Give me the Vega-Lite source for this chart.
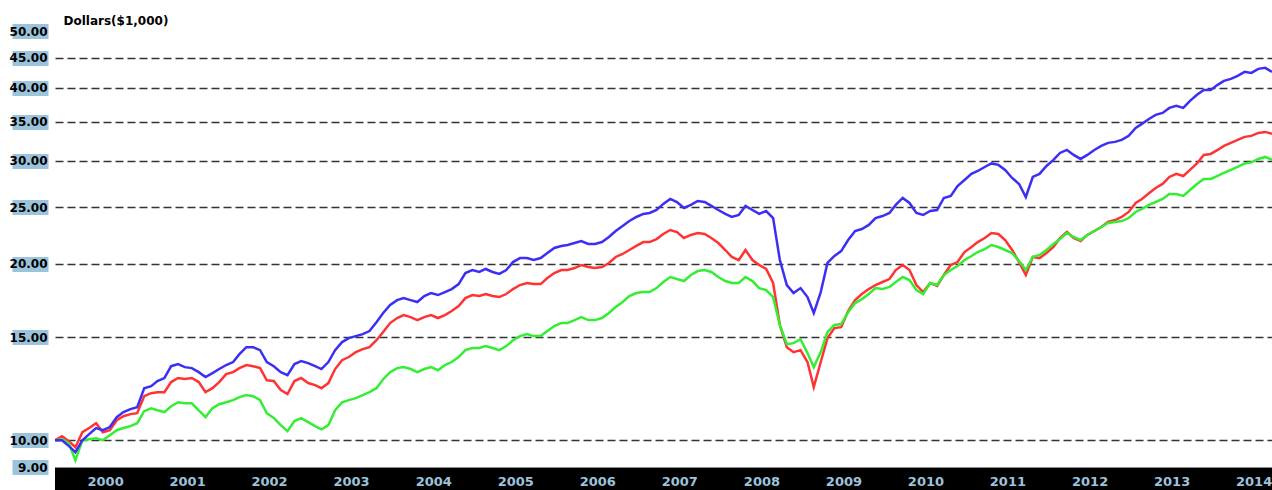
{
  "$schema": "https://vega.github.io/schema/vega-lite/v6.json",
  "width": 1217,
  "height": 436,
  "autosize": {"type": "none"},
  "padding": {"left": 55, "top": 31, "right": 0, "bottom": 23},
  "background": "white",
  "config": {"view": {"stroke": null}},
  "data": {"values": [
    {"date":"1999-12-01","s1":10.00,"s2":10.00,"s3":10.00},
    {"date":"2000-01-01","s1":10.00,"s2":10.16,"s3":10.04},
    {"date":"2000-02-01","s1":9.77,"s2":9.96,"s3":9.88},
    {"date":"2000-03-01","s1":9.54,"s2":9.73,"s3":9.24},
    {"date":"2000-04-01","s1":10.00,"s2":10.32,"s3":10.00},
    {"date":"2000-05-01","s1":10.24,"s2":10.49,"s3":10.04},
    {"date":"2000-06-01","s1":10.49,"s2":10.69,"s3":10.08},
    {"date":"2000-07-01","s1":10.40,"s2":10.32,"s3":10.00},
    {"date":"2000-08-01","s1":10.53,"s2":10.40,"s3":10.20},
    {"date":"2000-09-01","s1":10.95,"s2":10.82,"s3":10.40},
    {"date":"2000-10-01","s1":11.17,"s2":10.99,"s3":10.49},
    {"date":"2000-11-01","s1":11.30,"s2":11.08,"s3":10.57},
    {"date":"2000-12-01","s1":11.39,"s2":11.12,"s3":10.69},
    {"date":"2001-01-01","s1":12.27,"s2":11.89,"s3":11.21},
    {"date":"2001-02-01","s1":12.37,"s2":12.03,"s3":11.34},
    {"date":"2001-03-01","s1":12.62,"s2":12.08,"s3":11.25},
    {"date":"2001-04-01","s1":12.77,"s2":12.08,"s3":11.17},
    {"date":"2001-05-01","s1":13.38,"s2":12.57,"s3":11.43},
    {"date":"2001-06-01","s1":13.49,"s2":12.77,"s3":11.61},
    {"date":"2001-07-01","s1":13.33,"s2":12.72,"s3":11.56},
    {"date":"2001-08-01","s1":13.28,"s2":12.77,"s3":11.56},
    {"date":"2001-09-01","s1":13.07,"s2":12.57,"s3":11.25},
    {"date":"2001-10-01","s1":12.82,"s2":12.08,"s3":10.95},
    {"date":"2001-11-01","s1":13.02,"s2":12.27,"s3":11.34},
    {"date":"2001-12-01","s1":13.23,"s2":12.57,"s3":11.52},
    {"date":"2002-01-01","s1":13.44,"s2":12.97,"s3":11.61},
    {"date":"2002-02-01","s1":13.60,"s2":13.07,"s3":11.71},
    {"date":"2002-03-01","s1":14.03,"s2":13.28,"s3":11.85},
    {"date":"2002-04-01","s1":14.42,"s2":13.44,"s3":11.94},
    {"date":"2002-05-01","s1":14.42,"s2":13.38,"s3":11.89},
    {"date":"2002-06-01","s1":14.25,"s2":13.28,"s3":11.71},
    {"date":"2002-07-01","s1":13.60,"s2":12.66,"s3":11.12},
    {"date":"2002-08-01","s1":13.38,"s2":12.62,"s3":10.91},
    {"date":"2002-09-01","s1":13.07,"s2":12.18,"s3":10.61},
    {"date":"2002-10-01","s1":12.92,"s2":11.99,"s3":10.36},
    {"date":"2002-11-01","s1":13.49,"s2":12.62,"s3":10.78},
    {"date":"2002-12-01","s1":13.65,"s2":12.77,"s3":10.91},
    {"date":"2003-01-01","s1":13.54,"s2":12.52,"s3":10.74},
    {"date":"2003-02-01","s1":13.38,"s2":12.42,"s3":10.57},
    {"date":"2003-03-01","s1":13.23,"s2":12.27,"s3":10.44},
    {"date":"2003-04-01","s1":13.60,"s2":12.52,"s3":10.61},
    {"date":"2003-05-01","s1":14.25,"s2":13.23,"s3":11.25},
    {"date":"2003-06-01","s1":14.71,"s2":13.70,"s3":11.61},
    {"date":"2003-07-01","s1":14.94,"s2":13.87,"s3":11.71},
    {"date":"2003-08-01","s1":15.06,"s2":14.14,"s3":11.80},
    {"date":"2003-09-01","s1":15.18,"s2":14.31,"s3":11.94},
    {"date":"2003-10-01","s1":15.36,"s2":14.42,"s3":12.08},
    {"date":"2003-11-01","s1":15.91,"s2":14.82,"s3":12.27},
    {"date":"2003-12-01","s1":16.49,"s2":15.30,"s3":12.71},
    {"date":"2004-01-01","s1":17.02,"s2":15.85,"s3":13.07},
    {"date":"2004-02-01","s1":17.35,"s2":16.17,"s3":13.28},
    {"date":"2004-03-01","s1":17.49,"s2":16.36,"s3":13.33},
    {"date":"2004-04-01","s1":17.35,"s2":16.23,"s3":13.23},
    {"date":"2004-05-01","s1":17.22,"s2":16.04,"s3":13.07},
    {"date":"2004-06-01","s1":17.63,"s2":16.23,"s3":13.23},
    {"date":"2004-07-01","s1":17.84,"s2":16.36,"s3":13.33},
    {"date":"2004-08-01","s1":17.70,"s2":16.17,"s3":13.17},
    {"date":"2004-09-01","s1":17.91,"s2":16.36,"s3":13.44},
    {"date":"2004-10-01","s1":18.12,"s2":16.62,"s3":13.60},
    {"date":"2004-11-01","s1":18.48,"s2":16.95,"s3":13.87},
    {"date":"2004-12-01","s1":19.30,"s2":17.49,"s3":14.25},
    {"date":"2005-01-01","s1":19.53,"s2":17.70,"s3":14.37},
    {"date":"2005-02-01","s1":19.38,"s2":17.63,"s3":14.37},
    {"date":"2005-03-01","s1":19.61,"s2":17.77,"s3":14.48},
    {"date":"2005-04-01","s1":19.38,"s2":17.63,"s3":14.37},
    {"date":"2005-05-01","s1":19.23,"s2":17.56,"s3":14.25},
    {"date":"2005-06-01","s1":19.53,"s2":17.77,"s3":14.48},
    {"date":"2005-07-01","s1":20.15,"s2":18.12,"s3":14.82},
    {"date":"2005-08-01","s1":20.47,"s2":18.41,"s3":15.06},
    {"date":"2005-09-01","s1":20.47,"s2":18.56,"s3":15.18},
    {"date":"2005-10-01","s1":20.31,"s2":18.48,"s3":15.06},
    {"date":"2005-11-01","s1":20.47,"s2":18.48,"s3":15.06},
    {"date":"2005-12-01","s1":20.88,"s2":18.92,"s3":15.36},
    {"date":"2006-01-01","s1":21.30,"s2":19.30,"s3":15.67},
    {"date":"2006-02-01","s1":21.47,"s2":19.53,"s3":15.85},
    {"date":"2006-03-01","s1":21.55,"s2":19.53,"s3":15.85},
    {"date":"2006-04-01","s1":21.72,"s2":19.68,"s3":16.04},
    {"date":"2006-05-01","s1":21.89,"s2":19.92,"s3":16.23},
    {"date":"2006-06-01","s1":21.64,"s2":19.76,"s3":16.04},
    {"date":"2006-07-01","s1":21.64,"s2":19.68,"s3":16.04},
    {"date":"2006-08-01","s1":21.80,"s2":19.76,"s3":16.17},
    {"date":"2006-09-01","s1":22.24,"s2":20.08,"s3":16.49},
    {"date":"2006-10-01","s1":22.77,"s2":20.56,"s3":16.88},
    {"date":"2006-11-01","s1":23.22,"s2":20.80,"s3":17.22},
    {"date":"2006-12-01","s1":23.68,"s2":21.13,"s3":17.63},
    {"date":"2007-01-01","s1":24.06,"s2":21.47,"s3":17.84},
    {"date":"2007-02-01","s1":24.35,"s2":21.80,"s3":17.91},
    {"date":"2007-03-01","s1":24.44,"s2":21.80,"s3":17.91},
    {"date":"2007-04-01","s1":24.73,"s2":22.06,"s3":18.19},
    {"date":"2007-05-01","s1":25.33,"s2":22.50,"s3":18.63},
    {"date":"2007-06-01","s1":25.83,"s2":22.86,"s3":19.00},
    {"date":"2007-07-01","s1":25.52,"s2":22.68,"s3":18.85},
    {"date":"2007-08-01","s1":24.93,"s2":22.15,"s3":18.70},
    {"date":"2007-09-01","s1":25.23,"s2":22.42,"s3":19.15},
    {"date":"2007-10-01","s1":25.62,"s2":22.59,"s3":19.45},
    {"date":"2007-11-01","s1":25.52,"s2":22.50,"s3":19.53},
    {"date":"2007-12-01","s1":25.13,"s2":22.15,"s3":19.38},
    {"date":"2008-01-01","s1":24.73,"s2":21.72,"s3":19.00},
    {"date":"2008-02-01","s1":24.35,"s2":21.13,"s3":18.70},
    {"date":"2008-03-01","s1":24.06,"s2":20.56,"s3":18.56},
    {"date":"2008-04-01","s1":24.25,"s2":20.31,"s3":18.56},
    {"date":"2008-05-01","s1":25.13,"s2":21.13,"s3":19.00},
    {"date":"2008-06-01","s1":24.73,"s2":20.31,"s3":18.70},
    {"date":"2008-07-01","s1":24.35,"s2":19.92,"s3":18.19},
    {"date":"2008-08-01","s1":24.63,"s2":19.61,"s3":18.05},
    {"date":"2008-09-01","s1":23.96,"s2":18.56,"s3":17.56},
    {"date":"2008-10-01","s1":20.31,"s2":15.73,"s3":15.73},
    {"date":"2008-11-01","s1":18.41,"s2":14.42,"s3":14.59},
    {"date":"2008-12-01","s1":17.84,"s2":14.14,"s3":14.65},
    {"date":"2009-01-01","s1":18.19,"s2":14.25,"s3":14.88},
    {"date":"2009-02-01","s1":17.56,"s2":13.60,"s3":14.09},
    {"date":"2009-03-01","s1":16.49,"s2":12.32,"s3":13.33},
    {"date":"2009-04-01","s1":17.91,"s2":13.60,"s3":14.14},
    {"date":"2009-05-01","s1":20.08,"s2":14.94,"s3":15.30},
    {"date":"2009-06-01","s1":20.64,"s2":15.54,"s3":15.73},
    {"date":"2009-07-01","s1":21.04,"s2":15.60,"s3":15.79},
    {"date":"2009-08-01","s1":21.97,"s2":16.62,"s3":16.55},
    {"date":"2009-09-01","s1":22.77,"s2":17.35,"s3":17.15},
    {"date":"2009-10-01","s1":22.95,"s2":17.77,"s3":17.42},
    {"date":"2009-11-01","s1":23.32,"s2":18.12,"s3":17.77},
    {"date":"2009-12-01","s1":23.96,"s2":18.41,"s3":18.19},
    {"date":"2010-01-01","s1":24.15,"s2":18.63,"s3":18.12},
    {"date":"2010-02-01","s1":24.44,"s2":18.85,"s3":18.27},
    {"date":"2010-03-01","s1":25.23,"s2":19.53,"s3":18.63},
    {"date":"2010-04-01","s1":25.93,"s2":19.92,"s3":19.00},
    {"date":"2010-05-01","s1":25.42,"s2":19.53,"s3":18.77},
    {"date":"2010-06-01","s1":24.44,"s2":18.41,"s3":18.05},
    {"date":"2010-07-01","s1":24.25,"s2":17.91,"s3":17.77},
    {"date":"2010-08-01","s1":24.63,"s2":18.56,"s3":18.56},
    {"date":"2010-09-01","s1":24.73,"s2":18.34,"s3":18.41},
    {"date":"2010-10-01","s1":25.93,"s2":19.15,"s3":19.15},
    {"date":"2010-11-01","s1":26.14,"s2":19.92,"s3":19.53},
    {"date":"2010-12-01","s1":27.18,"s2":20.15,"s3":19.84},
    {"date":"2011-01-01","s1":27.83,"s2":20.96,"s3":20.31},
    {"date":"2011-02-01","s1":28.50,"s2":21.38,"s3":20.64},
    {"date":"2011-03-01","s1":28.83,"s2":21.80,"s3":20.96},
    {"date":"2011-04-01","s1":29.29,"s2":22.15,"s3":21.21},
    {"date":"2011-05-01","s1":29.70,"s2":22.59,"s3":21.55},
    {"date":"2011-06-01","s1":29.53,"s2":22.50,"s3":21.38},
    {"date":"2011-07-01","s1":28.95,"s2":21.97,"s3":21.13},
    {"date":"2011-08-01","s1":28.05,"s2":21.13,"s3":20.88},
    {"date":"2011-09-01","s1":27.40,"s2":20.15,"s3":20.23},
    {"date":"2011-10-01","s1":26.03,"s2":19.15,"s3":19.53},
    {"date":"2011-11-01","s1":28.16,"s2":20.56,"s3":20.56},
    {"date":"2011-12-01","s1":28.50,"s2":20.47,"s3":20.72},
    {"date":"2012-01-01","s1":29.41,"s2":20.88,"s3":21.13},
    {"date":"2012-02-01","s1":30.11,"s2":21.38,"s3":21.64},
    {"date":"2012-03-01","s1":30.95,"s2":22.15,"s3":22.06},
    {"date":"2012-04-01","s1":31.32,"s2":22.68,"s3":22.59},
    {"date":"2012-05-01","s1":30.71,"s2":22.15,"s3":22.24},
    {"date":"2012-06-01","s1":30.23,"s2":21.89,"s3":21.97},
    {"date":"2012-07-01","s1":30.71,"s2":22.42,"s3":22.42},
    {"date":"2012-08-01","s1":31.32,"s2":22.77,"s3":22.77},
    {"date":"2012-09-01","s1":31.82,"s2":23.13,"s3":23.13},
    {"date":"2012-10-01","s1":32.20,"s2":23.59,"s3":23.50},
    {"date":"2012-11-01","s1":32.33,"s2":23.77,"s3":23.59},
    {"date":"2012-12-01","s1":32.58,"s2":24.06,"s3":23.68},
    {"date":"2013-01-01","s1":33.10,"s2":24.54,"s3":23.96},
    {"date":"2013-02-01","s1":34.15,"s2":25.42,"s3":24.54},
    {"date":"2013-03-01","s1":34.70,"s2":25.83,"s3":24.83},
    {"date":"2013-04-01","s1":35.38,"s2":26.41,"s3":25.23},
    {"date":"2013-05-01","s1":35.95,"s2":26.97,"s3":25.52},
    {"date":"2013-06-01","s1":36.23,"s2":27.40,"s3":25.83},
    {"date":"2013-07-01","s1":36.95,"s2":28.16,"s3":26.34},
    {"date":"2013-08-01","s1":37.25,"s2":28.50,"s3":26.34},
    {"date":"2013-09-01","s1":36.95,"s2":28.27,"s3":26.14},
    {"date":"2013-10-01","s1":37.98,"s2":28.95,"s3":26.76},
    {"date":"2013-11-01","s1":38.90,"s2":29.70,"s3":27.40},
    {"date":"2013-12-01","s1":39.66,"s2":30.71,"s3":27.94},
    {"date":"2014-01-01","s1":39.66,"s2":30.83,"s3":27.94},
    {"date":"2014-02-01","s1":40.46,"s2":31.32,"s3":28.27},
    {"date":"2014-03-01","s1":41.09,"s2":31.82,"s3":28.61},
    {"date":"2014-04-01","s1":41.42,"s2":32.20,"s3":28.95},
    {"date":"2014-05-01","s1":41.92,"s2":32.58,"s3":29.29},
    {"date":"2014-06-01","s1":42.58,"s2":32.97,"s3":29.70},
    {"date":"2014-07-01","s1":42.41,"s2":33.10,"s3":29.82},
    {"date":"2014-08-01","s1":43.08,"s2":33.49,"s3":30.23},
    {"date":"2014-09-01","s1":43.25,"s2":33.62,"s3":30.47},
    {"date":"2014-10-01","s1":42.58,"s2":33.36,"s3":30.11}
  ]},
  "transform": [{"fold": ["s2", "s3", "s1"], "as": ["series", "value"]}],
  "mark": {"type": "line", "strokeWidth": 2.5, "clip": true},
  "encoding": {
    "x": {
      "field": "date", "type": "temporal",
      "scale": {"domain": [{"year": 1999, "month": 12, "date": 1, "utc": true}, {"year": 2014, "month": 10, "date": 1, "utc": true}], "nice": false},
      "axis": {
        "title": null, "grid": false,
        "values": [
          {"year": 2000, "month": 6, "date": 1, "utc": true},
          {"year": 2001, "month": 6, "date": 1, "utc": true},
          {"year": 2002, "month": 6, "date": 1, "utc": true},
          {"year": 2003, "month": 6, "date": 1, "utc": true},
          {"year": 2004, "month": 6, "date": 1, "utc": true},
          {"year": 2005, "month": 6, "date": 1, "utc": true},
          {"year": 2006, "month": 6, "date": 1, "utc": true},
          {"year": 2007, "month": 6, "date": 1, "utc": true},
          {"year": 2008, "month": 6, "date": 1, "utc": true},
          {"year": 2009, "month": 6, "date": 1, "utc": true},
          {"year": 2010, "month": 6, "date": 1, "utc": true},
          {"year": 2011, "month": 6, "date": 1, "utc": true},
          {"year": 2012, "month": 6, "date": 1, "utc": true},
          {"year": 2013, "month": 6, "date": 1, "utc": true},
          {"year": 2014, "month": 6, "date": 1, "utc": true}
        ],
        "format": "%Y",
        "ticks": true, "tickSize": 23, "tickWidth": 83, "tickColor": "#000000", "tickCap": "butt",
        "domain": true, "domainColor": "#8a8a8a", "domainWidth": 1,
        "labelColor": "#9cc3dc", "labelFont": "DejaVu Sans", "labelFontWeight": "bold", "labelFontSize": 13,
        "labelPadding": -9, "labelBaseline": "middle", "labelOffset": 9, "labelFlush": false, "labelOverlap": false
      }
    },
    "y": {
      "field": "value", "type": "quantitative",
      "scale": {"type": "log", "domain": [9, 50], "nice": false},
      "axis": {
        "values": [9, 10, 15, 20, 25, 30, 35, 40, 45, 50], "format": ".2f",
        "domain": false, "offset": 7,
        "ticks": true, "tickSize": 36, "tickWidth": 15, "tickColor": "#9cc3dc", "tickCap": "butt",
        "labelPadding": -35,
        "labelFont": "DejaVu Sans", "labelFontWeight": "bold", "labelFontSize": 12, "labelColor": "#000000",
        "labelOverlap": false, "labelFlush": false,
        "grid": true, "gridColor": "#333333", "gridDash": [8, 4], "gridWidth": 1.5,
        "gridOpacity": {"condition": {"test": "datum.value == 9 || datum.value == 50", "value": 0}, "value": 1},
        "title": "Dollars($1,000)", "titleAngle": 0, "titleAlign": "left", "titleBaseline": "middle",
        "titleX": 15, "titleY": -11, "titleFont": "DejaVu Sans", "titleFontWeight": "bold", "titleFontSize": 12, "titleColor": "#000000"
      }
    },
    "color": {
      "field": "series", "type": "nominal",
      "scale": {"domain": ["s1", "s2", "s3"], "range": ["#3c2ff5", "#ff3333", "#33ee33"]},
      "legend": null
    }
  }
}
